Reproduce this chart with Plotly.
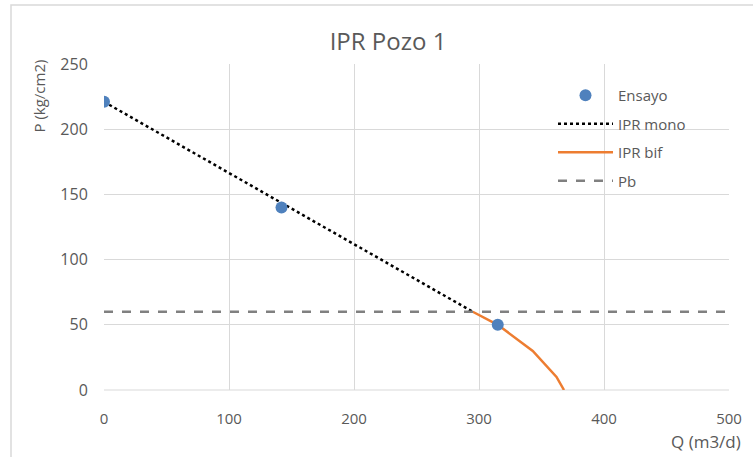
import plotly.graph_objects as go

# Data
ensayo_q = [0, 142, 315]
ensayo_p = [221, 140, 50]
mono_q = [0, 295]
mono_p = [221, 60]
bif_q = [295, 315, 343, 362, 368]
bif_p = [60, 50, 30, 10, 0]
pb_q = [0, 500]
pb_p = [60, 60]

GRAY = "#595959"
fig = go.Figure()
fig.add_trace(go.Scatter(x=mono_q, y=mono_p, mode="lines", name="IPR mono",
                         line=dict(color="black", width=2.5, dash="dot"),
                         legendgroup="b", legendrank=2))
fig.add_trace(go.Scatter(x=bif_q, y=bif_p, mode="lines", name="IPR bif",
                         line=dict(color="#ED7D31", width=2.5),
                         legendgroup="c", legendrank=3))
fig.add_trace(go.Scatter(x=pb_q, y=pb_p, mode="lines", name="Pb",
                         line=dict(color="#808080", width=2.5, dash="dash"),
                         legendgroup="d", legendrank=4))
fig.add_trace(go.Scatter(x=ensayo_q, y=ensayo_p, mode="markers", name="Ensayo",
                         marker=dict(color="#4F81BD", size=12),
                         legendgroup="a", legendrank=1))

font = "Open Sans, Liberation Sans, sans-serif"
fig.update_layout(
    width=753, height=457,
    margin=dict(l=104, r=24, t=64, b=67),
    paper_bgcolor="white", plot_bgcolor="white",
    font=dict(family=font, color=GRAY, size=15),
    title=dict(text="IPR Pozo 1", x=388/753, xanchor="center", y=1 - 42/457, yanchor="middle",
               font=dict(size=24, color=GRAY)),
    xaxis=dict(range=[0, 500], dtick=100, showgrid=True, gridcolor="#D9D9D9", gridwidth=1,
               zeroline=False, showline=False, ticks="outside", ticklen=15,
               tickcolor="rgba(0,0,0,0)", tickfont=dict(size=15, color=GRAY)),
    yaxis=dict(range=[0, 250], dtick=50, showgrid=True, gridcolor="#D9D9D9", gridwidth=1,
               zeroline=False, showline=False, ticks="outside", ticklen=12,
               tickcolor="rgba(0,0,0,0)", tickfont=dict(size=16, color=GRAY)),
    legend=dict(x=(553-104)/625, xanchor="left", y=1 - (79-64)/326, yanchor="top",
                bgcolor="rgba(0,0,0,0)", font=dict(size=15, color=GRAY),
                traceorder="grouped", tracegroupgap=6, itemwidth=55),
    showlegend=True,
)

fig.add_annotation(text="P (kg/cm2)", xref="paper", yref="paper",
                   x=(38-104)/625, y=1 + 6/326, xanchor="center", yanchor="top",
                   textangle=-90, showarrow=False, font=dict(size=15, color=GRAY))
fig.add_annotation(text="Q (m3/d)", xref="paper", yref="paper",
                   x=(743-104)/625, y=-(441-390)/326, xanchor="right", yanchor="middle",
                   showarrow=False, font=dict(size=17, color=GRAY))
# bottom axis line
fig.add_shape(type="line", xref="paper", yref="paper", x0=0, x1=1, y0=0, y1=0,
              line=dict(color="#D9D9D9", width=1), layer="below")
# chart border
fig.add_shape(type="rect", xref="paper", yref="paper",
              x0=(11-104)/625, x1=(760-104)/625, y0=-(470-390)/326, y1=1 + (64-5)/326,
              line=dict(color="#D9D9D9", width=1.5), layer="below")

fig.write_html("out.html")
